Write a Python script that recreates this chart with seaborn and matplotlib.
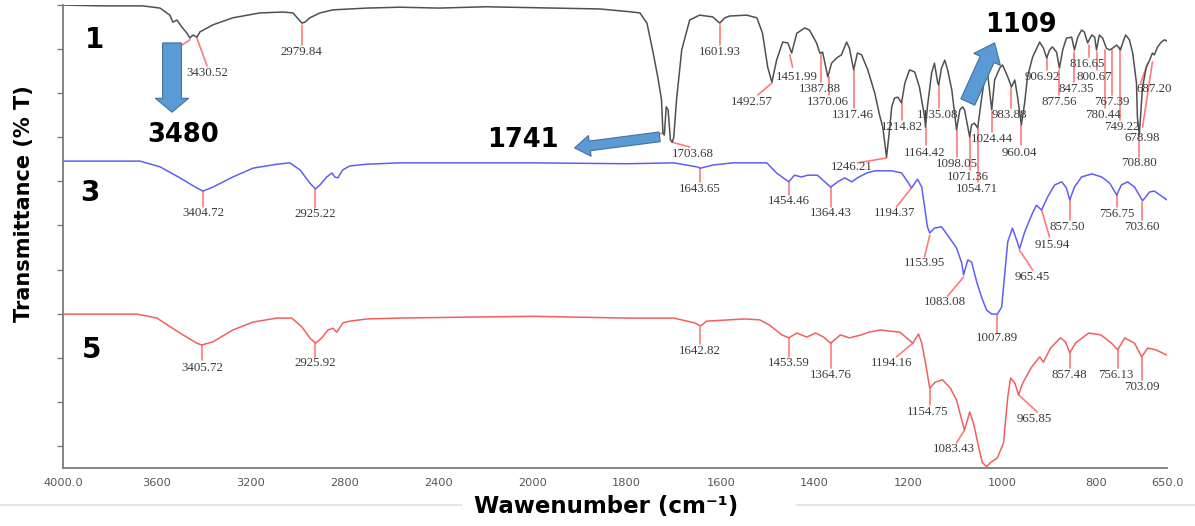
import numpy as np
import pandas as pd
import matplotlib
matplotlib.use("Agg")
import matplotlib.pyplot as plt
import seaborn as sns
from matplotlib.patches import FancyArrowPatch, ArrowStyle
from matplotlib.lines import Line2D

# ---------------- data (wavenumber cm-1, transmittance arbitrary %) ----------------
spectrum_1 = [(4000,100.0),(3843,99.8),(3660,99.8),(3587,99.3),(3545,97.7),(3532,96.1),(3515,96.6),(3494,95.0),
 (3472,93.6),(3460,92.5),(3447,93.2),(3430,92.7),(3417,93.9),(3362,95.5),(3277,97.1),(3162,98.2),(3064,98.4),
 (3021,98.2),(2983,95.9),(2970,96.1),(2949,97.1),(2906,98.2),(2851,98.9),(2706,99.3),(2566,99.5),(2400,99.3),
 (2200,99.6),(2000,99.4),(1857,99.1),(1787,98.4),(1772,98.2),(1757,95.9),(1745,89.8),(1734,83.7),(1726,78.5),
 (1723,71.0),(1720,70.5),(1716,76.9),(1712,76.2),(1707,69.4),(1703,68.9),(1700,70.0),(1694,78.5),(1683,89.8),
 (1666,96.6),(1645,97.7),(1617,97.3),(1602,95.9),(1591,97.1),(1581,97.5),(1545,97.7),(1523,97.1),(1511,93.6),
 (1500,85.9),(1491,82.5),(1481,87.5),(1468,91.6),(1457,91.4),(1449,89.1),(1438,93.6),(1421,94.8),(1411,94.3),
 (1396,91.4),(1389,89.1),(1383,89.3),(1372,83.7),(1364,86.8),(1353,88.0),(1343,88.7),(1332,91.6),(1326,90.2),
 (1317,85.3),(1309,89.1),(1300,88.7),(1287,85.3),(1272,80.0),(1262,75.1),(1255,72.3),(1247,65.5),(1240,72.3),
 (1236,76.9),(1230,78.9),(1223,79.1),(1215,77.8),(1208,82.3),(1198,85.3),(1187,84.8),(1177,81.4),(1166,74.6),
 (1164,72.3),(1160,76.9),(1151,84.6),(1145,86.8),(1138,82.3),(1136,81.9),(1130,85.7),(1123,87.5),(1117,85.3),
 (1108,80.7),(1098,71.7),(1091,76.2),(1085,76.9),(1081,76.2),(1070,70.1),(1066,72.8),(1060,73.2),(1053,72.1),
 (1045,78.5),(1038,83.7),(1032,84.6),(1023,76.2),(1017,83.0),(1006,85.7),(1000,86.4),(989,83.7),(981,81.4),
 (974,83.0),(968,79.1),(960,72.8),(953,77.8),(947,83.7),(936,88.2),(921,91.6),(913,90.2),(906,88.0),(900,89.8),
 (894,90.5),(885,89.3),(879,85.7),(872,89.8),(864,92.5),(853,92.7),(847,89.8),(840,92.7),(832,94.3),(826,93.9),
 (819,91.4),(810,93.2),(804,92.7),(800,89.8),(794,93.2),(787,92.5),(779,90.2),(772,89.8),(766,90.2),(757,90.9),
 (749,89.8),(742,92.1),(738,93.2),(730,92.1),(723,89.1),(715,82.3),(713,74.6),(709,70.5),(702,81.4),(694,85.9),
 (687,87.5),(681,89.1),(677,88.7),(670,90.5),(662,91.6),(655,92.1),(650,91.8)]

spectrum_3 = [(4000,64.6),(3672,64.6),(3587,63.3),(3502,60.8),(3430,58.5),(3404,57.8),(3362,58.7),(3277,61.0),
 (3191,63.0),(3089,63.9),(3034,64.2),(2991,62.6),(2949,59.6),(2925,58.3),(2906,59.2),(2877,61.0),(2855,61.9),
 (2843,61.0),(2830,60.8),(2809,62.6),(2779,63.5),(2706,63.9),(2566,64.2),(2300,64.2),(2000,64.2),(1800,64.0),
 (1700,64.2),(1651,63.3),(1643,63.0),(1617,63.7),(1574,64.2),(1502,64.2),(1481,61.9),(1455,59.9),(1443,61.4),
 (1428,61.0),(1415,61.4),(1394,61.4),(1366,58.7),(1351,59.9),(1336,60.8),(1321,59.9),(1309,60.8),(1289,61.9),
 (1272,62.4),(1236,62.4),(1215,61.9),(1202,59.9),(1194,58.5),(1181,60.5),(1172,58.7),(1166,54.2),(1160,49.7),
 (1155,48.3),(1145,49.4),(1130,49.7),(1117,47.8),(1098,44.9),(1087,41.5),(1083,38.8),(1074,42.2),(1066,41.7),
 (1055,37.2),(1045,33.8),(1034,30.8),(1023,29.9),(1011,29.9),(1002,31.5),(996,38.3),(989,46.3),(979,49.4),
 (970,46.7),(964,44.7),(953,48.5),(938,52.4),(928,54.6),(917,53.5),(904,56.5),(889,59.2),(874,59.9),(864,58.5),
 (857,55.8),(847,58.7),(832,61.0),(810,61.7),(789,61.0),(772,59.6),(757,56.9),(747,59.2),(734,59.9),(719,58.7),
 (702,55.6),(687,57.6),(677,57.8),(650,55.8)]

spectrum_5 = [(4000,29.9),(3685,29.9),(3600,29.0),(3502,25.6),(3430,23.3),(3409,22.9),(3362,23.6),(3277,26.3),
 (3191,28.1),(3089,29.0),(3026,29.0),(2983,27.0),(2949,24.5),(2925,23.3),(2898,24.5),(2872,26.3),(2851,26.7),
 (2834,25.8),(2809,27.9),(2779,28.3),(2706,28.8),(2566,29.0),(2300,29.2),(2000,29.4),(1800,29.0),(1700,29.0),
 (1655,27.9),(1643,27.2),(1630,28.3),(1550,28.8),(1517,28.6),(1496,27.4),(1470,25.2),(1455,24.5),(1438,25.6),
 (1417,24.7),(1398,25.6),(1381,24.7),(1366,23.3),(1345,25.2),(1326,24.5),(1300,25.2),(1285,25.8),(1260,26.3),
 (1219,25.8),(1204,24.5),(1191,23.3),(1179,25.4),(1172,23.3),(1164,18.8),(1155,13.1),(1143,14.5),(1128,15.0),
 (1111,13.1),(1098,10.4),(1087,5.9),(1081,3.6),(1070,7.7),(1062,5.2),(1051,-0.2),(1043,-3.8),(1034,-4.7),
 (1026,-3.8),(1011,-2.7),(998,0.7),(989,11.1),(983,15.4),(974,14.3),(966,11.6),(957,14.3),(938,17.9),(921,20.2),
 (913,19.0),(898,22.2),(877,24.5),(866,23.6),(857,21.1),(845,23.3),(817,25.6),(791,25.2),(768,23.3),(755,21.8),
 (740,24.5),(719,23.3),(704,20.2),(691,22.2),(674,21.8),(650,20.6)]

# peak labels: (text, leader from wn, T, leader to wn, T, text wn, text T)
peaks_1 = [("3430.52",3430,92.5,3387,86.2,3387,84.6),("2979.84",2983,95.5,2983,90.9,2987,89.3),
 ("1601.93",1602,95.5,1602,90.9,1602,89.3),("1703.68",1704,68.9,1666,67.8,1660,66.2),
 ("1492.57",1491,82.3,1521,79.6,1534,78.0),("1451.99",1453,88.7,1447,85.9,1438,83.7),
 ("1387.88",1387,89.1,1387,82.5,1389,81.0),("1370.06",1370,83.7,1370,79.6,1372,78.0),
 ("1317.46",1317,85.3,1317,76.6,1319,75.1),("1246.21",1247,65.3,1309,64.2,1321,63.3),
 ("1214.82",1215,77.8,1215,73.9,1215,72.3),("1164.42",1164,72.3,1164,68.3,1166,66.4),
 ("1135.08",1136,81.9,1136,76.6,1138,75.1),("1098.05",1098,71.7,1098,65.5,1098,63.9),
 ("1071.36",1070,70.1,1070,62.6,1074,61.0),("1054.71",1053,72.1,1053,59.9,1055,58.3),
 ("1024.44",1023,75.7,1023,71.2,1023,69.6),("983.88",983,81.2,983,76.6,985,75.1),
 ("960.04",960,72.8,960,68.3,964,66.4),("906.92",906,88.0,906,85.3,915,83.7),
 ("877.56",879,85.3,879,79.6,879,78.0),("847.35",847,89.3,847,82.5,843,81.0),
 ("816.65",817,90.9,817,88.2,819,86.6),("800.67",800,89.3,800,85.3,804,83.7),
 ("780.44",781,89.8,781,76.6,787,75.1),("767.39",768,89.8,768,79.6,768,78.0),
 ("749.22",749,90.5,749,73.9,747,72.3),("708.80",709,70.1,709,65.5,709,64.2),
 ("678.98",681,87.1,702,72.3,702,69.8),("687.20",691,86.8,706,82.3,677,81.0)]
extra_leaders_1 = [(3494,90.9,3460,92.1),(1734,70.5,1723,71.0)]

peaks_3 = [("3404.72",3404,57.8,3404,54.2,3404,52.8),("2925.22",2928,58.3,2928,54.0,2928,52.6),
 ("1643.65",1645,63.0,1645,59.9,1645,58.3),("1454.46",1455,59.9,1455,56.9,1455,55.6),
 ("1364.43",1366,58.7,1366,54.2,1366,52.8),("1194.37",1194,58.5,1226,54.2,1230,52.8),
 ("1153.95",1155,47.8,1166,42.9,1166,41.5),("1083.08",1083,38.3,1117,34.0,1123,32.6),
 ("1007.89",1011,29.7,1011,25.6,1011,24.5),("965.45",964,44.4,936,39.9,936,38.3),
 ("915.94",917,53.5,900,47.4,894,45.6),("857.50",857,55.8,857,51.2,862,49.7),
 ("756.75",757,56.9,757,54.2,757,52.6),("703.60",704,55.3,704,51.2,704,49.7)]

peaks_5 = [("3405.72",3409,22.9,3409,19.5,3409,17.7),("2925.92",2928,23.3,2928,20.2,2928,18.8),
 ("1642.82",1645,27.0,1645,23.1,1645,21.5),("1453.59",1455,24.5,1455,20.2,1455,18.8),
 ("1364.76",1366,23.3,1366,17.7,1366,16.1),("1194.16",1191,23.3,1226,20.2,1236,18.8),
 ("1154.75",1155,13.1,1155,9.3,1160,7.7),("1083.43",1081,3.6,1098,0.7,1104,-0.6),
 ("965.85",966,11.6,926,7.7,932,6.1),("857.48",857,21.1,857,17.7,857,16.1),
 ("756.13",755,21.8,755,17.7,760,16.1),("703.09",704,20.2,704,15.0,704,13.4)]

sample_names = ["1", "3", "5"]
sample_name_pos = [(3864, 92.1), (3885, 57.4), (3877, 21.8)]
callouts = [("3480", 3489, 70.5), ("1741", 2043, 69.4), ("1109", 960, 95.5)]
callout_arrows = [((3536, 91.4), (3536, 75.7)), ((1730, 70.1), (1911, 67.6)), ((1074, 78.0), (1017, 91.4))]

xtick_values = [4000, 3600, 3200, 2800, 2400, 2000, 1800, 1600, 1400, 1200, 1000, 800, 650]
xtick_labels = ["4000.0", "3600", "3200", "2800", "2400", "2000", "1800", "1600", "1400", "1200", "1000", "800", "650.0"]

# ---------------- figure ----------------
sns.set_style("white")
plt.rcParams["font.family"] = ["DejaVu Sans"]

fig = plt.figure(figsize=(11.95, 5.26), dpi=100)
ax = fig.add_axes([63/1195, 1 - 468/526, 1104/1195, 463/526])

def fwd(x):
    x = np.asarray(x, dtype=float)
    return np.where(x > 2000, 2000 + (x - 2000) * 0.5, x)

def inv(t):
    t = np.asarray(t, dtype=float)
    return np.where(t > 2000, 2000 + (t - 2000) * 2.0, t)

ax.set_xscale("function", functions=(fwd, inv))

colors = {"1": "#505050", "3": "#5f5ff5", "5": "#f25f5f"}
frames = []
for name, pts in zip(sample_names, [spectrum_1, spectrum_3, spectrum_5]):
    arr = np.array(pts, dtype=float)
    frames.append(pd.DataFrame({"wavenumber": arr[:, 0], "T": arr[:, 1], "sample": name}))
df = pd.concat(frames, ignore_index=True)
for name in sample_names:
    sub = df[df["sample"] == name]
    sns.lineplot(data=sub, x="wavenumber", y="T", sort=False, estimator=None,
                 color=colors[name], lw=1.1, ax=ax, legend=False)

ax.set_xlim(4000, 650)
ax.set_ylim(-5, 100)

leader_color = "#ff7a7a"
label_kw = dict(ha="center", va="center", fontsize=9.3, color="#3a3a3a", family="Liberation Serif")
for peaks in (peaks_1, peaks_3, peaks_5):
    for txt, x0, y0, x1, y1, xt, yt in peaks:
        ax.plot([x0, x1], [y0, y1], color=leader_color, lw=1.2, zorder=1)
        ax.text(xt, yt, txt, **label_kw)
for x0, y0, x1, y1 in extra_leaders_1:
    ax.plot([x0, x1], [y0, y1], color=leader_color, lw=1.2, zorder=1)

for name, (xp, yp) in zip(sample_names, sample_name_pos):
    ax.text(xp, yp, name, ha="center", va="center", fontsize=20, fontweight="bold", color="black")

for txt, xp, yp in callouts:
    ax.text(xp, yp, txt, ha="center", va="center", fontsize=18.5, fontweight="bold", color="black")

arrow_styles = [ArrowStyle.Simple(head_length=10, head_width=24, tail_width=13.5),
                ArrowStyle.Simple(head_length=11, head_width=15, tail_width=7),
                ArrowStyle.Simple(head_length=13, head_width=21, tail_width=11)]
for (tail, tip), st in zip(callout_arrows, arrow_styles):
    ax.add_patch(FancyArrowPatch(tail, tip, arrowstyle=st, mutation_scale=1,
                                 shrinkA=0, shrinkB=0, fc="#5b9bd5", ec="#41719c", lw=0.8, zorder=5))

# axes styling
for s in ["top", "right"]:
    ax.spines[s].set_visible(False)
for s in ["left", "bottom"]:
    ax.spines[s].set_color("#7a7a7a")
    ax.spines[s].set_linewidth(1.3)
ax.set_xticks(xtick_values)
ax.set_xticklabels(xtick_labels)
ax.minorticks_off()
ax.set_yticks(np.arange(0, 101, 10))
ax.set_yticklabels([])
ax.tick_params(axis="x", direction="out", length=2, width=1.2, color="#7a7a7a",
               labelsize=8.2, labelcolor="#555555", pad=5)
ax.tick_params(axis="y", direction="out", length=4, width=1, color="#7a7a7a", left=True)

ax.set_xlabel("Wawenumber (cm⁻¹)", fontsize=16.5, fontweight="bold", color="black", va="center")
ax.xaxis.set_label_coords(0.492, -0.084)
ax.set_ylabel("Transmittance (% T)", fontsize=15, fontweight="bold", color="black", va="center")
ax.yaxis.set_label_coords(-0.0353, 0.572)

# faint separator lines of the source document
fig.add_artist(Line2D([0, 462/1195], [1 - 505/526] * 2, color="#e4e2d6", lw=1.2))
fig.add_artist(Line2D([797/1195, 1], [1 - 505/526] * 2, color="#e4e2d6", lw=1.2))

fig.savefig("out.png", dpi=100)
